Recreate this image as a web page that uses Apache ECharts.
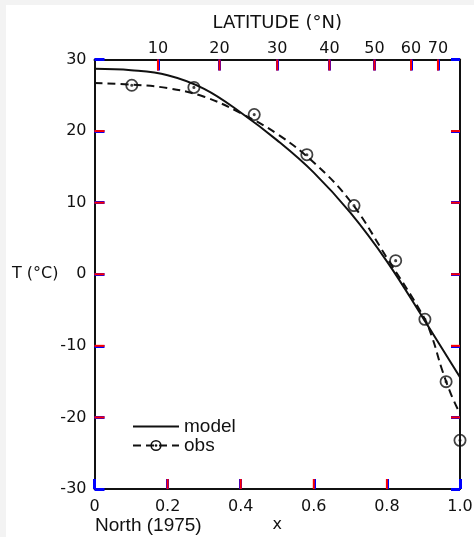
<!DOCTYPE html>
<html><head><meta charset="utf-8">
<script src="https://cdn.jsdelivr.net/npm/echarts@6/dist/echarts.min.js"></script>
<style>
html,body{margin:0;padding:0;background:#f3f3f3;width:474px;height:537px;overflow:hidden}
#c{position:absolute;left:6px;top:5px;width:468px;height:532px;background:#fff}
</style></head><body><div id="c"></div>
<script>
// ---- data ----
const modelX = [0, 0.1, 0.2, 0.3, 0.4, 0.5, 0.6, 0.7, 0.8, 0.9, 1.0];
const modelT = [28.7, 28.5, 27.8, 25.9, 22.6, 18.7, 14.2, 8.6, 1.8, -6.2, -14.4];
const fitX = [0, 0.1, 0.2, 0.3, 0.4, 0.5, 0.6, 0.7, 0.8, 0.9, 0.925, 0.95, 0.975, 1.0];
const fitT = [26.7, 26.5, 26.0, 24.8, 22.5, 19.6, 15.6, 10.2, 2.3, -5.9, -9.0, -13.2, -16.7, -19.5];
const obsX = [0.102, 0.272, 0.437, 0.581, 0.71, 0.824, 0.904, 0.962, 1.0];
const obsT = [26.4, 26.1, 22.3, 16.7, 9.6, 1.9, -6.3, -15.0, -23.2];
const xTicks = [0, 0.2, 0.4, 0.6, 0.8, 1.0];
const xTickLabels = ['0', '0.2', '0.4', '0.6', '0.8', '1.0'];
const latTicks = [10, 20, 30, 40, 50, 60, 70];
const yTicks = [-30, -20, -10, 0, 10, 20, 30];

const X_MIN = 0, X_MAX = 1, Y_MIN = -30, Y_MAX = 30;
const latPos = latTicks.map(l => Math.sin(l * Math.PI / 180));
const ring = 'path://M0,-10 A10,10 0 1,1 0,10 A10,10 0 1,1 0,-10 Z M0,-7.3 A7.3,7.3 0 1,0 0,7.3 A7.3,7.3 0 1,0 0,-7.3 Z M0,-2.4 A2.4,2.4 0 1,1 0,2.4 A2.4,2.4 0 1,1 0,-2.4 Z';

const tickData = [].concat(
  xTicks.slice(1, -1).map(v => [v, Y_MIN, 0]),
  latPos.map(v => [v, Y_MAX, 1]),
  yTicks.slice(1, -1).map(v => [X_MIN, v, 2]),
  yTicks.slice(1, -1).map(v => [X_MAX, v, 3])
);

const ink = '#111';
const axisFont = () => ({fontFamily: 'DejaVu Sans', fontSize: 16, color: ink});
const annFont = () => ({fontFamily: 'Liberation Sans', fontSize: 19, color: ink});
const axLine = () => ({show: true, onZero: false, lineStyle: {color: ink, width: 2}});
const tick = len => ({show: true, inside: true, length: len, lineStyle: {color: 'blue', width: 3}});

const chart = echarts.init(document.getElementById('c'), null, {renderer: 'canvas'});
chart.setOption({
  animation: false,
  grid: {left: 88.5, right: 14, top: 54.5, bottom: 48, outerBoundsMode: 'none', containLabel: false},
  xAxis: [
    {
      type: 'value', position: 'bottom', min: X_MIN, max: X_MAX, interval: 0.2,
      axisLine: axLine(),
      axisTick: tick(10),
      axisLabel: Object.assign({margin: 10, formatter: v => {
        const i = xTicks.findIndex(t => Math.abs(t - v) < 1e-6);
        return i >= 0 ? xTickLabels[i] : '';
      }}, axisFont()),
      splitLine: {show: false},
      name: 'x', nameLocation: 'middle', nameGap: 28, nameMoveOverlap: false, nameTextStyle: axisFont()
    },
    {
      type: 'value', position: 'top', min: X_MIN, max: X_MAX,
      axisLine: axLine(),
      axisTick: Object.assign(tick(11), {customValues: latPos}),
      axisLabel: Object.assign({margin: 3, customValues: latPos, formatter: v => {
        const i = latPos.findIndex(t => Math.abs(t - v) < 1e-6);
        return i >= 0 ? String(latTicks[i]) : '';
      }}, axisFont()),
      splitLine: {show: false},
      name: 'LATITUDE (°N)', nameLocation: 'middle', nameGap: 27, nameMoveOverlap: false,
      nameTextStyle: Object.assign(axisFont(), {fontSize: 18})
    }
  ],
  yAxis: [
    {
      type: 'value', position: 'left', min: Y_MIN, max: Y_MAX, interval: 10,
      axisLine: axLine(),
      axisTick: tick(10),
      axisLabel: Object.assign({margin: 8, formatter: v => {
        const i = yTicks.indexOf(v);
        return i >= 0 ? String(yTicks[i]) : '';
      }}, axisFont()),
      splitLine: {show: false},
      name: 'T (°C)', nameLocation: 'middle', nameRotate: 0, nameGap: 36, nameMoveOverlap: false,
      nameTextStyle: axisFont()
    },
    {
      type: 'value', position: 'right', min: Y_MIN, max: Y_MAX, interval: 10,
      axisLine: axLine(),
      axisTick: tick(9),
      axisLabel: {show: false},
      splitLine: {show: false}
    }
  ],
  legend: {
    orient: 'vertical', left: 126, top: 412, padding: 0,
    itemWidth: 46, itemHeight: 14, itemGap: 0,
    textStyle: annFont(),
    data: [{name: 'model', itemStyle: {opacity: 0}}, {name: 'obs'}]
  },
  series: [
    {
      name: 'model', type: 'line', smooth: 0.4, symbol: 'none',
      data: modelX.map((x, i) => [x, modelT[i]]),
      lineStyle: {color: ink, width: 2}, itemStyle: {color: ink}
    },
    {
      name: 'obs', type: 'line', smooth: 0.4, symbol: ring, showSymbol: false,
      data: fitX.map((x, i) => [x, fitT[i]]),
      lineStyle: {color: ink, width: 2, type: [8, 5]}, itemStyle: {color: ink}
    },
    {
      name: 'obs', type: 'scatter', symbol: ring, symbolSize: 13,
      data: obsX.map((x, i) => [x, obsT[i]]),
      itemStyle: {color: ink}, z: 5
    },
    {
      name: 'ticks', type: 'custom', silent: true, clip: false, z: 4,
      xAxisIndex: 0, yAxisIndex: 0,
      encode: {x: 0, y: 1},
      data: tickData,
      renderItem: function (params, api) {
        const p = api.coord([api.value(0), api.value(1)]);
        const side = api.value(2);
        const len = side === 1 ? 11 : (side === 3 ? 9 : 10);
        let x2 = p[0], y2 = p[1];
        if (side === 0) y2 = p[1] - len;
        else if (side === 1) y2 = p[1] + len;
        else if (side === 2) x2 = p[0] + len;
        else x2 = p[0] - len;
        return {
          type: 'line',
          shape: {x1: p[0], y1: p[1], x2: x2, y2: y2},
          style: {stroke: 'red', lineWidth: 2}
        };
      }
    }
  ],
  graphic: [
    {type: 'text', left: 89, top: 511, style: {text: 'North (1975)', font: '19px "Liberation Sans"', fill: ink}}
  ]
});
</script></body></html>
